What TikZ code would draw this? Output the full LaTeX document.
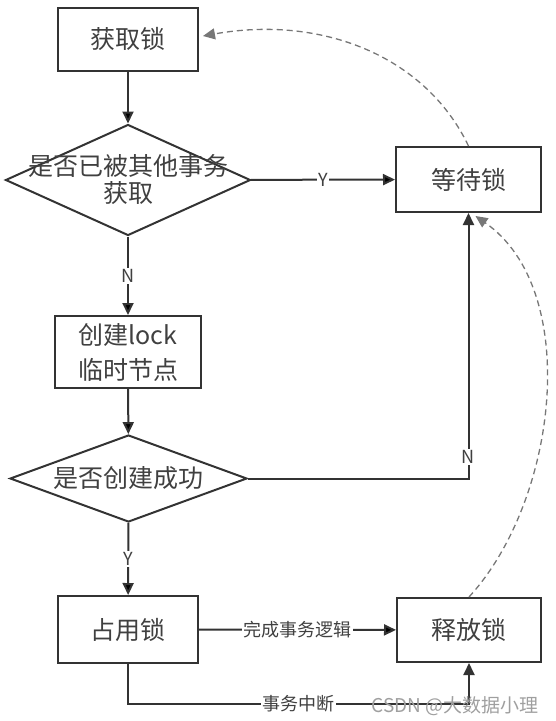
\documentclass[tikz,border=0pt]{standalone}
\usepackage{fontspec}
\setmainfont{Noto Sans CJK SC}
\usetikzlibrary{shapes.geometric,arrows.meta}
\definecolor{linecol}{HTML}{333333}
\definecolor{txtcol}{HTML}{404040}
\definecolor{dashcol}{HTML}{777777}

\begin{document}
\begin{tikzpicture}[x=1pt,y=-1pt,
		box/.style={draw=linecol,line width=2pt,text=txtcol,align=center,font=\fontsize{25}{28}\selectfont,minimum width=140pt,minimum height=63pt},
		judge/.style={diamond,draw=linecol,line width=2pt,inner sep=0pt,aspect=2.2,text=txtcol,align=center,font=\fontsize{25}{28}\selectfont},
		lbl/.style={fill=white,text=txtcol,inner sep=1.5pt,font=\fontsize{18}{18}\selectfont},
		flow/.style={draw=linecol,line width=2pt},
		back/.style={draw=dashcol,line width=1.3pt,dash pattern=on 6pt off 4pt},
		>={Triangle[length=12pt,width=11pt]}]
			\useasboundingbox (0,0) rectangle (555,721);
			\draw (128,39) node [box] (get) {获取锁};
			\draw (128,180) node [judge,minimum width=245pt,minimum height=111pt] (judge1) {\makebox[0pt]{是否已被其他事务}\\[-1pt]\makebox[0pt]{获取}};
			\draw (468.5,179.5) node [box,minimum width=145pt,minimum height=65pt] (wait) {等待锁};
			\draw (128,352) node [box,minimum width=146pt,minimum height=72pt] (create) {创建lock\\[7pt]临时节点};
			\draw (128.5,478.5) node [judge,minimum width=237pt,minimum height=87pt] (judge2) {\makebox[0pt]{是否创建成功}};
			\draw (128,629.5) node [box,minimum height=67pt] (use) {占用锁};
			\draw (469,630) node [box,minimum width=144pt,minimum height=64pt] (release) {释放锁};
			\coordinate (low) at (298,704);
			\path[->,flow]
				(get) edge (judge1)
				(judge1) edge node [lbl] {Y} (wait)
					edge node [lbl] {N} (create)
				(create) edge (judge2)
				(judge2) edge node [lbl] {Y} (use)
				(use) edge node [lbl] {完成事务逻辑} (release);
			\draw[->,flow] (judge2.east) -| node [lbl,pos=0.54] {N} (wait.south);
			\draw[->,flow] (use.south) |- (low) -| (release.south);
			\draw (low) node [lbl] {事务中断};
			% dashed returns
			\draw[->,back] (wait.north) .. controls (425,55) and (320,15) .. ([xshift=4pt,yshift=3pt]get.east);
			\draw[->,back] (release.north) .. controls (558,500) and (582,290) .. ([xshift=7pt,yshift=-3pt]wait.south);
			\draw (455,706) node [text=gray!75,font=\fontsize{19}{19}\selectfont] (mark) {CSDN @大数据小理};
		\end{tikzpicture}
\end{document}
